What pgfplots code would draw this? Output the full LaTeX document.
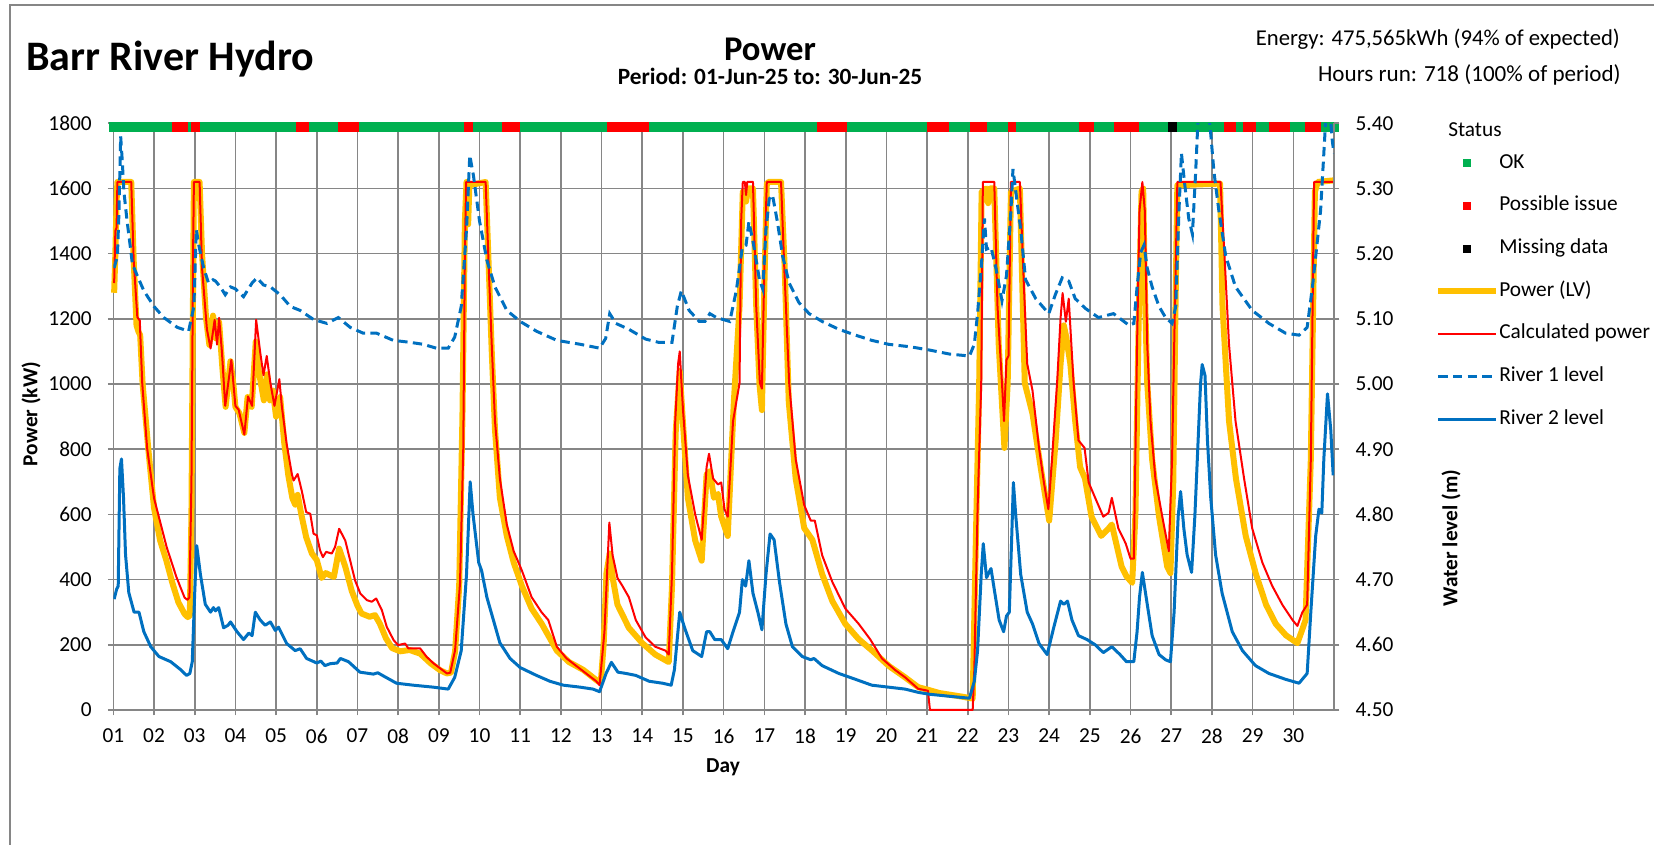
\documentclass[border=0pt]{standalone}
\usepackage{fontspec}
\setmainfont{Carlito}
\usepackage{pgfplots}
\pgfplotsset{compat=1.18}
\definecolor{okgreen}{HTML}{00B050}
\definecolor{issred}{HTML}{FF0000}
\definecolor{pwrorange}{HTML}{FFC000}
\definecolor{lvlblue}{HTML}{0070C0}
\definecolor{gridgray}{HTML}{868686}
\newcommand{\sz}{\fontsize{16}{19}\selectfont}
\begin{document}
\begin{tikzpicture}
\begin{scope}[x=0.75pt,y=-0.75pt]
\useasboundingbox (0,0) rectangle (1654,845);
\draw[gridgray, line width=1.5pt] (10,845) -- (10,5) -- (1654,5);
\node[anchor=base west, font=\bfseries\fontsize{31.5}{36}\selectfont, inner sep=0pt] at (26,70.5) {Barr River Hydro};
\node[anchor=base, font=\bfseries\fontsize{26}{30}\selectfont, inner sep=0pt] at (770,61) {Power};
\node[anchor=base, font=\bfseries\fontsize{17.5}{21}\selectfont, inner sep=0pt] at (770,84.5) {Period: 01-Jun-25 to: 30-Jun-25};
\node[anchor=base east, font=\fontsize{17}{20}\selectfont, inner sep=0pt] at (1620,46) {Energy: 475,565kWh (94\% of expected)};
\node[anchor=base east, font=\fontsize{17.3}{20}\selectfont, inner sep=0pt] at (1621,82) {Hours run: 718 (100\% of period)};
\node[rotate=90, font=\bfseries\sz, inner sep=0pt] at (31,414) {Power (kW)};
\node[font=\bfseries\sz, inner sep=0pt] at (723,767) {Day};
\node[rotate=90, font=\bfseries\sz, inner sep=0pt] at (1451,538) {Water level (m)};
\node[anchor=base west, font=\sz, inner sep=0pt] at (1448,137) {Status};
\end{scope}

\begin{axis}[
  at={(85pt,-92.475pt)}, anchor=north west,
  scale only axis, width=915.5pt, height=440pt,
  xmin=1, xmax=31, ymin=0, ymax=1800,
  clip=false,
  xtick={1,...,30},
  xticklabels={01,02,03,04,05,06,07,08,09,10,11,12,13,14,15,16,17,18,19,20,21,22,23,24,25,26,27,28,29,30},
  ytick={0,200,...,1800},
  xtick pos=bottom, ytick pos=left,
  tick align=outside, major tick length=4pt,
  grid=major,
  grid style={line width=1.2pt, color=gridgray},
  axis line style={line width=1.2pt, color=gridgray},
  tick style={line width=1.2pt, color=gridgray},
  ticklabel style={font=\sz, inner sep=0pt},
  xticklabel style={anchor=north, yshift=-10pt},
  yticklabel style={anchor=east, xshift=-12pt},
  /pgf/number format/assume math mode=true,
  /pgf/number format/1000 sep={},
]
% Power (LV)
\addplot[pwrorange, line width=4.5pt, line join=round] coordinates {
(1.02,1280) (1.05,1400) (1.08,1560) (1.1,1620) (1.44,1620) (1.5,1380) (1.57,1180) (1.62,1160) (1.66,1150) (1.72,1000) (1.86,800) (2.0,620) (2.15,520) (2.3,460) (2.45,390) (2.6,330) (2.75,295) (2.83,285) (2.88,290) (2.92,600) (2.96,1300) (2.98,1620) (3.12,1620) (3.18,1400) (3.28,1200) (3.36,1120) (3.45,1210) (3.52,1140) (3.6,1190) (3.68,1050) (3.76,930) (3.88,1070) (3.95,1000) (4.0,930) (4.1,910) (4.22,850) (4.3,960) (4.4,930) (4.5,1130) (4.56,1050) (4.63,1000) (4.7,950) (4.78,1030) (4.85,950) (4.92,980) (5.0,900) (5.1,960) (5.2,820) (5.3,720) (5.4,650) (5.47,630) (5.53,660) (5.62,600) (5.74,530) (5.88,480) (6.0,460) (6.12,405) (6.22,420) (6.3,415) (6.42,408) (6.55,495) (6.7,440) (6.86,365) (7.0,320) (7.1,296) (7.3,286) (7.43,291) (7.55,265) (7.7,220) (7.85,190) (8.05,180) (8.28,184) (8.54,173) (8.8,143) (9.03,122) (9.2,112) (9.3,115) (9.4,180) (9.5,380) (9.58,900) (9.64,1500) (9.68,1620) (9.72,1490) (9.75,1610) (10.15,1620) (10.22,1380) (10.3,1100) (10.38,860) (10.5,651) (10.67,534) (10.84,452) (11.04,381) (11.28,311) (11.53,264) (11.9,182) (12.2,147) (12.55,123) (12.91,88) (12.98,85) (13.05,200) (13.12,420) (13.2,480) (13.28,400) (13.39,323) (13.67,252) (14.0,205) (14.32,170) (14.65,147) (14.73,380) (14.82,850) (14.92,1040) (15.0,880) (15.12,651) (15.3,520) (15.46,458) (15.58,722) (15.66,733) (15.76,651) (15.86,663) (15.94,593) (16.1,534) (16.25,945) (16.39,1238) (16.47,1590) (16.55,1560) (16.6,1600) (16.72,1600) (16.8,1240) (16.88,1000) (16.94,920) (17.0,1300) (17.06,1614) (17.1,1620) (17.41,1620) (17.5,1356) (17.6,945) (17.77,710) (17.98,558) (18.18,522) (18.42,417) (18.67,334) (18.99,264) (19.32,217) (19.65,182) (20.06,135) (20.46,100) (20.78,70) (21.02,62) (21.3,52) (21.6,46) (21.9,40) (22.12,35) (22.2,534) (22.28,1003) (22.34,1590) (22.45,1600) (22.5,1555) (22.55,1600) (22.65,1600) (22.76,1121) (22.9,804) (22.98,1003) (23.06,1590) (23.28,1600) (23.4,1003) (23.59,909) (23.79,745) (24.0,581) (24.16,827) (24.28,1062) (24.36,1180) (24.42,1144) (24.52,1062) (24.64,886) (24.76,745) (24.88,710) (25.04,593) (25.28,534) (25.46,557) (25.54,569) (25.78,440) (25.9,410) (26.04,390) (26.12,600) (26.2,1200) (26.27,1590) (26.31,1600) (26.35,1300) (26.41,1003) (26.53,769) (26.7,593) (26.9,440) (26.98,420) (27.05,700) (27.1,1200) (27.15,1610) (28.2,1615) (28.26,1238) (28.42,886) (28.59,710) (28.83,534) (29.08,417) (29.33,323) (29.57,264) (29.82,229) (30.1,205) (30.2,240) (30.3,276) (30.43,769) (30.53,1590) (30.6,1620) (31.0,1625)
};
% Calculated power
\addplot[issred, line width=1.5pt, line join=round] coordinates {
(1.02,1310) (1.05,1470) (1.08,1480) (1.1,1620) (1.44,1620) (1.5,1380) (1.59,1205) (1.65,1195) (1.71,1003) (1.83,804) (2.0,650) (2.31,500) (2.55,408) (2.75,345) (2.82,338) (2.87,345) (2.92,700) (2.96,1400) (2.98,1620) (3.12,1620) (3.18,1356) (3.3,1168) (3.39,1109) (3.49,1197) (3.55,1121) (3.6,1203) (3.67,1097) (3.75,933) (3.9,1074) (4.0,933) (4.08,921) (4.22,845) (4.31,962) (4.41,933) (4.51,1197) (4.61,1097) (4.69,1027) (4.77,1086) (4.86,1003) (4.96,933) (5.08,1015) (5.14,933) (5.26,816) (5.39,722) (5.43,704) (5.53,724) (5.63,673) (5.74,607) (5.84,602) (5.92,541) (6.0,536) (6.08,490) (6.15,469) (6.23,485) (6.37,480) (6.45,500) (6.55,556) (6.7,520) (6.82,459) (6.94,398) (7.07,357) (7.23,337) (7.35,332) (7.46,342) (7.6,306) (7.72,255) (7.89,214) (8.0,199) (8.17,204) (8.25,189) (8.54,189) (8.7,163) (8.87,143) (9.03,128) (9.2,112) (9.28,114) (9.4,184) (9.52,388) (9.6,800) (9.64,1400) (9.67,1620) (10.15,1620) (10.22,1379) (10.3,1121) (10.38,886) (10.5,710) (10.67,569) (10.84,487) (11.04,428) (11.28,346) (11.53,299) (11.69,276) (11.9,194) (12.14,158) (12.38,135) (12.62,112) (12.87,88) (12.95,76) (13.07,240) (13.19,575) (13.27,475) (13.39,405) (13.51,381) (13.67,346) (13.84,276) (14.08,223) (14.32,194) (14.57,182) (14.65,170) (14.73,417) (14.81,886) (14.88,1062) (14.92,1100) (15.0,921) (15.12,720) (15.3,600) (15.46,522) (15.58,745) (15.64,786) (15.74,710) (15.86,692) (15.94,698) (16.02,616) (16.1,593) (16.23,886) (16.39,1003) (16.43,1500) (16.47,1620) (16.52,1620) (16.55,1580) (16.58,1620) (16.72,1620) (16.8,1238) (16.89,1003) (16.94,986) (17.0,1356) (17.06,1620) (17.41,1620) (17.49,1356) (17.61,1003) (17.77,769) (17.98,628) (18.14,581) (18.24,581) (18.42,475) (18.67,393) (18.99,311) (19.32,264) (19.6,217) (19.89,158) (20.21,123) (20.46,100) (20.78,65) (21.02,59) (21.07,0) (22.12,0) (22.16,123) (22.24,616) (22.33,1003) (22.37,1620) (22.65,1620) (22.73,1238) (22.84,1003) (22.89,886) (22.95,1074) (23.0,1086) (23.06,1620) (23.28,1620) (23.38,1297) (23.46,1062) (23.59,980) (23.75,804) (23.87,698) (23.98,616) (24.07,769) (24.2,1015) (24.28,1203) (24.33,1279) (24.41,1191) (24.48,1262) (24.6,1003) (24.72,827) (24.87,804) (24.97,698) (25.13,651) (25.33,593) (25.46,605) (25.54,651) (25.7,557) (25.88,511) (26.0,464) (26.08,464) (26.16,1121) (26.22,1532) (26.29,1620) (26.35,1532) (26.41,1121) (26.49,886) (26.61,710) (26.78,593) (26.94,487) (27.02,769) (27.09,1238) (27.15,1620) (28.21,1620) (28.3,1414) (28.42,1121) (28.58,886) (28.79,710) (28.99,557) (29.24,452) (29.48,381) (29.73,323) (29.98,276) (30.1,258) (30.22,299) (30.34,323) (30.43,769) (30.51,1620) (31.0,1620)
};
% Status bar
\addplot[okgreen, line width=7.5pt] coordinates {(0.9,1790) (31.13,1790)};
\addplot[issred, line width=7.5pt, unbounded coords=jump] coordinates {
(2.436,1790) (2.824,1790) (2.85,nan) (2.906,1790) (3.12,1790) (3.2,nan)
(5.485,1790) (5.82,1790) (5.9,nan) (6.515,1790) (7.04,1790) (7.1,nan)
(9.63,1790) (9.85,1790) (9.9,nan) (10.56,1790) (11.0,1790) (11.1,nan)
(13.13,1790) (14.16,1790) (14.2,nan) (18.30,1790) (19.04,1790) (19.1,nan)
(20.99,1790) (21.53,1790) (21.6,nan) (22.05,1790) (22.46,1790) (22.5,nan)
(22.98,1790) (23.19,1790) (23.2,nan) (24.73,1790) (25.09,1790) (25.1,nan)
(25.59,1790) (26.21,1790) (26.3,nan) (28.30,1790) (28.59,1790) (28.6,nan)
(28.76,1790) (29.09,1790) (29.1,nan) (29.40,1790) (29.92,1790) (29.95,nan)
(30.29,1790) (30.69,1790)
};
\addplot[black, line width=7.5pt] coordinates {(26.93,1790) (27.13,1790)};
\end{axis}

\begin{axis}[
  at={(85pt,-92.475pt)}, anchor=north west,
  scale only axis, width=915.5pt, height=440pt,
  xmin=1, xmax=31, ymin=4.5, ymax=5.4,
  axis x line=none, axis y line*=right,
  ytick={4.5,4.6,4.7,4.8,4.9,5.0,5.1,5.2,5.3,5.4},
  tick align=outside, major tick length=4pt,
  axis line style={line width=1.2pt, color=gridgray},
  tick style={line width=1.2pt, color=gridgray},
  ticklabel style={font=\sz, inner sep=0pt},
  yticklabel style={anchor=west, xshift=12pt,
    /pgf/number format/fixed, /pgf/number format/fixed zerofill, /pgf/number format/precision=2},
  /pgf/number format/assume math mode=true,
  legend cell align=left,
  legend style={at={(axis description cs:1.0828,0.9489)}, anchor=north west,
    draw=none, fill=none, font=\sz, inner sep=0pt,
    nodes={inner sep=0pt, text height=11pt, text depth=3.5pt},
    row sep=17.5pt,
    /tikz/every odd column/.append style={column sep=0pt}},
]
\addlegendimage{legend image code/.code={\fill[okgreen, draw=none] (18.75pt,-3pt) rectangle (24.75pt,3pt); \path[draw=none] (0pt,0pt) -- (43.5pt,0pt);}}
\addlegendentry{OK}
\addlegendimage{legend image code/.code={\fill[issred, draw=none] (18.75pt,-3pt) rectangle (24.75pt,3pt); \path[draw=none] (0pt,0pt) -- (43.5pt,0pt);}}
\addlegendentry{Possible issue}
\addlegendimage{legend image code/.code={\fill[black, draw=none] (18.75pt,-3pt) rectangle (24.75pt,3pt); \path[draw=none] (0pt,0pt) -- (43.5pt,0pt);}}
\addlegendentry{Missing data}
\addlegendimage{legend image code/.code={\draw[pwrorange, line width=4.5pt] (0pt,0pt) -- (43.5pt,0pt);}}
\addlegendentry{Power (LV)}
\addlegendimage{legend image code/.code={\draw[issred, line width=1.5pt] (0pt,0pt) -- (43.5pt,0pt);}}
\addlegendentry{Calculated power}
\addlegendimage{legend image code/.code={\draw[lvlblue, line width=2.25pt, dash pattern=on 7pt off 4pt] (0pt,0pt) -- (43.5pt,0pt);}}
\addlegendentry{River 1 level}
\addlegendimage{legend image code/.code={\draw[lvlblue, line width=2.25pt] (0pt,0pt) -- (43.5pt,0pt);}}
\addlegendentry{River 2 level}
% River 1 level
\addplot[forget plot, lvlblue, line width=2.25pt, dash pattern=on 7pt off 4pt] coordinates {
(1.02,5.178) (1.1,5.196) (1.14,5.266) (1.18,5.38) (1.22,5.342) (1.26,5.295) (1.34,5.249) (1.47,5.184) (1.59,5.166) (1.75,5.143) (2.0,5.119) (2.24,5.102) (2.57,5.087) (2.85,5.081) (2.98,5.119) (3.04,5.237) (3.1,5.213) (3.22,5.178) (3.34,5.155) (3.45,5.16) (3.51,5.158) (3.63,5.149) (3.75,5.137) (3.88,5.149) (4.0,5.146) (4.2,5.134) (4.41,5.155) (4.53,5.163) (4.69,5.152) (4.86,5.149) (5.1,5.137) (5.35,5.119) (5.59,5.113) (5.92,5.099) (6.25,5.093) (6.53,5.102) (6.82,5.087) (7.14,5.078) (7.47,5.078) (7.88,5.067) (8.29,5.064) (8.61,5.061) (8.94,5.055) (9.23,5.055) (9.39,5.072) (9.55,5.119) (9.68,5.237) (9.76,5.351) (9.85,5.32) (10.0,5.25) (10.18,5.19) (10.38,5.149) (10.67,5.113) (11.0,5.096) (11.4,5.081) (11.9,5.067) (12.47,5.061) (12.95,5.055) (13.1,5.07) (13.2,5.108) (13.35,5.093) (13.67,5.084) (14.08,5.069) (14.4,5.064) (14.73,5.064) (14.86,5.119) (14.96,5.143) (15.15,5.113) (15.4,5.096) (15.54,5.096) (15.66,5.108) (15.82,5.102) (16.15,5.096) (16.31,5.143) (16.46,5.21) (16.55,5.213) (16.62,5.249) (16.72,5.219) (16.88,5.16) (16.96,5.146) (17.04,5.237) (17.12,5.284) (17.2,5.29) (17.32,5.249) (17.45,5.196) (17.61,5.155) (17.85,5.125) (18.1,5.108) (18.42,5.096) (18.83,5.084) (19.24,5.075) (19.64,5.067) (20.05,5.061) (20.6,5.057) (21.07,5.052) (21.55,5.046) (22.04,5.043) (22.16,5.061) (22.24,5.108) (22.33,5.178) (22.41,5.254) (22.46,5.207) (22.57,5.21) (22.69,5.178) (22.84,5.128) (22.95,5.166) (23.06,5.266) (23.11,5.33) (23.18,5.295) (23.3,5.237) (23.42,5.16) (23.67,5.131) (23.99,5.108) (24.15,5.137) (24.32,5.163) (24.48,5.158) (24.64,5.131) (24.89,5.116) (25.21,5.102) (25.58,5.108) (25.9,5.093) (25.96,5.09) (26.08,5.093) (26.16,5.149) (26.25,5.202) (26.33,5.213) (26.41,5.178) (26.53,5.149) (26.7,5.119) (26.86,5.102) (27.02,5.093) (27.11,5.119) (27.19,5.266) (27.25,5.354) (27.33,5.307) (27.43,5.254) (27.52,5.23) (27.6,5.325) (27.66,5.41) (27.75,5.46) (27.85,5.45) (27.93,5.41) (27.97,5.384) (28.05,5.325) (28.17,5.266) (28.34,5.196) (28.58,5.149) (28.99,5.113) (29.4,5.093) (29.81,5.078) (30.14,5.075) (30.34,5.087) (30.47,5.149) (30.59,5.219) (30.67,5.266) (30.75,5.354) (30.8,5.41) (30.88,5.43) (30.96,5.372) (31.0,5.354)
};
% River 2 level
\addplot[forget plot, lvlblue, line width=2.25pt, line join=round] coordinates {
(1.02,4.67) (1.08,4.685) (1.12,4.69) (1.16,4.87) (1.2,4.885) (1.25,4.826) (1.3,4.738) (1.38,4.68) (1.51,4.65) (1.63,4.65) (1.75,4.62) (1.92,4.597) (2.12,4.582) (2.41,4.574) (2.65,4.562) (2.8,4.553) (2.88,4.556) (2.94,4.574) (3.0,4.68) (3.05,4.752) (3.14,4.708) (3.26,4.662) (3.39,4.65) (3.46,4.657) (3.51,4.652) (3.59,4.657) (3.71,4.626) (3.82,4.63) (3.88,4.635) (4.04,4.62) (4.2,4.608) (4.33,4.618) (4.41,4.614) (4.49,4.65) (4.61,4.638) (4.73,4.63) (4.86,4.635) (4.98,4.622) (5.06,4.627) (5.26,4.602) (5.47,4.591) (5.59,4.594) (5.75,4.579) (6.0,4.572) (6.1,4.575) (6.2,4.568) (6.33,4.571) (6.5,4.572) (6.58,4.579) (6.78,4.574) (7.06,4.558) (7.39,4.555) (7.5,4.557) (7.7,4.55) (7.96,4.541) (8.37,4.538) (8.86,4.535) (9.23,4.532) (9.39,4.55) (9.55,4.591) (9.68,4.708) (9.77,4.85) (9.84,4.8) (9.98,4.726) (10.05,4.714) (10.18,4.673) (10.34,4.638) (10.5,4.603) (10.75,4.579) (11.0,4.565) (11.4,4.553) (11.73,4.544) (12.06,4.538) (12.47,4.535) (12.79,4.532) (12.95,4.528) (13.11,4.556) (13.24,4.573) (13.4,4.558) (13.6,4.556) (13.84,4.553) (14.17,4.544) (14.5,4.541) (14.71,4.538) (14.79,4.562) (14.92,4.65) (15.04,4.626) (15.24,4.591) (15.46,4.582) (15.58,4.62) (15.66,4.62) (15.78,4.608) (15.94,4.608) (16.1,4.594) (16.23,4.62) (16.39,4.65) (16.46,4.70) (16.54,4.69) (16.62,4.729) (16.72,4.679) (16.84,4.65) (16.94,4.623) (17.04,4.708) (17.14,4.77) (17.24,4.761) (17.37,4.697) (17.53,4.632) (17.69,4.597) (17.93,4.582) (18.14,4.577) (18.22,4.579) (18.42,4.568) (18.83,4.556) (19.24,4.547) (19.64,4.538) (20.05,4.535) (20.46,4.532) (20.78,4.527) (21.07,4.524) (21.55,4.521) (22.04,4.518) (22.16,4.544) (22.24,4.591) (22.33,4.708) (22.38,4.755) (22.46,4.703) (22.57,4.717) (22.65,4.685) (22.77,4.638) (22.88,4.62) (22.95,4.644) (23.02,4.65) (23.08,4.767) (23.12,4.849) (23.18,4.797) (23.3,4.708) (23.46,4.65) (23.59,4.632) (23.75,4.602) (23.95,4.585) (24.11,4.626) (24.28,4.667) (24.36,4.662) (24.45,4.667) (24.56,4.638) (24.72,4.614) (24.93,4.608) (25.13,4.6) (25.33,4.588) (25.54,4.597) (25.74,4.585) (25.9,4.574) (26.08,4.574) (26.16,4.62) (26.22,4.673) (26.29,4.711) (26.41,4.662) (26.53,4.614) (26.7,4.585) (26.86,4.577) (26.98,4.574) (27.07,4.65) (27.17,4.797) (27.23,4.835) (27.31,4.778) (27.39,4.738) (27.5,4.711) (27.58,4.797) (27.66,4.913) (27.72,5.0) (27.76,5.03) (27.83,5.013) (27.89,4.913) (27.97,4.826) (28.09,4.738) (28.25,4.679) (28.5,4.62) (28.75,4.591) (29.07,4.568) (29.4,4.556) (29.81,4.547) (30.14,4.541) (30.34,4.556) (30.43,4.65) (30.55,4.767) (30.63,4.808) (30.7,4.802) (30.75,4.885) (30.84,4.985) (30.92,4.93) (30.98,4.86)
};
\end{axis}
\end{tikzpicture}
\end{document}
